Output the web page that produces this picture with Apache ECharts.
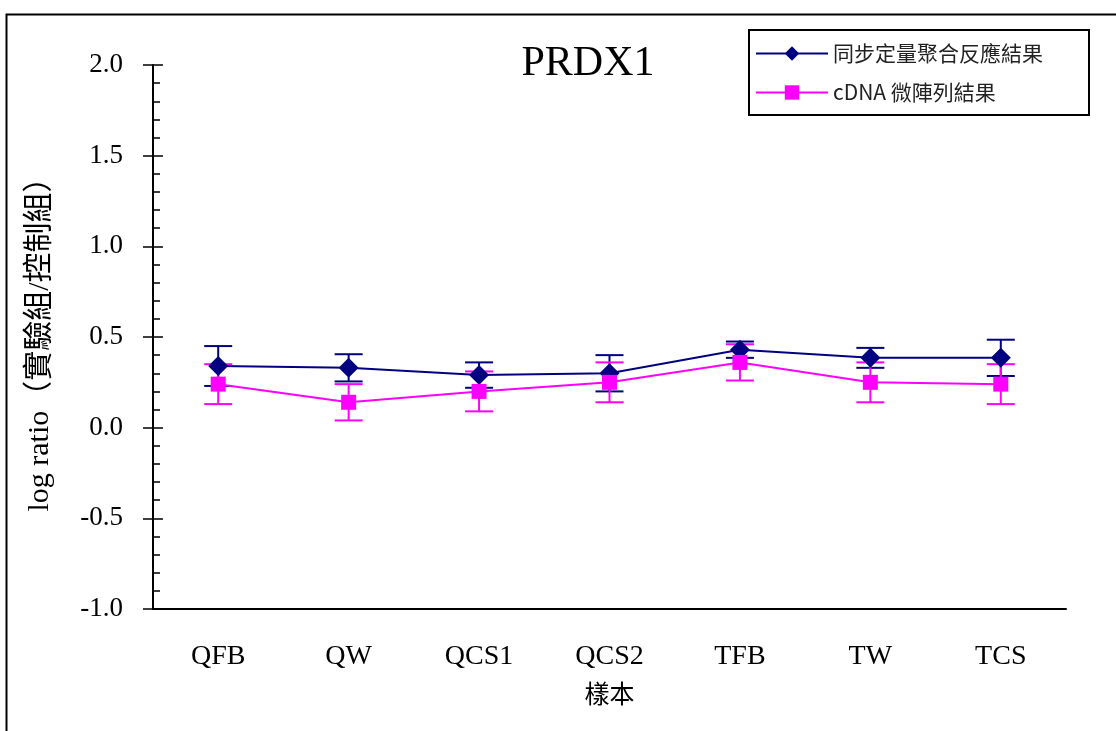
<!DOCTYPE html>
<html><head><meta charset="utf-8">
<script src="https://cdn.jsdelivr.net/npm/echarts@6/dist/echarts.min.js"></script>
<style>html,body{margin:0;padding:0;background:#fff}#c{width:1116px;height:731px}</style>
</head><body><div id="c"></div>
<script>
const categories = ['QFB','QW','QCS1','QCS2','TFB','TW','TCS'];
const qpcrValues = [0.34, 0.33, 0.29, 0.30, 0.43, 0.385, 0.385];
const qpcrErrors = [0.11, 0.075, 0.07, 0.10, 0.045, 0.055, 0.10];
const cdnaValues = [0.24, 0.14, 0.20, 0.25, 0.36, 0.25, 0.24];
const cdnaErrors = [0.11, 0.10, 0.11, 0.11, 0.10, 0.11, 0.11];
const seriesNames = ['同步定量聚合反應結果', 'cDNA 微陣列結果'];
const yTicks = {min: -1.0, max: 2.0, interval: 0.5};

const serif = '"Liberation Serif","Noto Sans CJK TC",serif';
const cjk = '"Noto Sans CJK TC","Liberation Serif",serif';

function errSeries(vals, errs, color) {
  return {
    type: 'custom', silent: true, z: 3,
    data: vals.map((v, i) => [i, v - errs[i], v + errs[i]]),
    renderItem: function (params, api) {
      const lo = api.coord([api.value(0), api.value(1)]);
      const hi = api.coord([api.value(0), api.value(2)]);
      const w = 14;
      const st = {stroke: color, lineWidth: 2};
      return {type: 'group', children: [
        {type: 'line', shape: {x1: lo[0], y1: lo[1], x2: hi[0], y2: hi[1]}, style: st},
        {type: 'line', shape: {x1: lo[0]-w, y1: lo[1], x2: lo[0]+w, y2: lo[1]}, style: st},
        {type: 'line', shape: {x1: hi[0]-w, y1: hi[1], x2: hi[0]+w, y2: hi[1]}, style: st}
      ]};
    }
  };
}

const chart = echarts.init(document.getElementById('c'));
chart.setOption({
  backgroundColor: '#fff',
  animation: false,
  title: {text: 'PRDX1', left: 583, top: 38, textAlign: 'center',
    textStyle: {fontFamily: serif, fontSize: 42, fontWeight: 'normal', color: '#000'}},
  legend: {
    orient: 'vertical', left: 749, top: 30,
    padding: [13, 46, 12, 6], itemGap: 18, itemWidth: 72, itemHeight: 18,
    borderColor: '#000', borderWidth: 2, backgroundColor: '#fff',
    textStyle: {fontFamily: cjk, fontSize: 21, color: '#222'},
    data: seriesNames
  },
  grid: {left: 153, right: 50, top: 65, bottom: 122},
  xAxis: {
    type: 'category', data: categories, boundaryGap: true,
    name: '樣本', nameLocation: 'middle', nameGap: 72,
    nameTextStyle: {fontFamily: cjk, fontSize: 25, color: '#000'},
    axisLine: {onZero: false, lineStyle: {color: '#000', width: 2}},
    axisTick: {inside: true, length: 12, lineStyle: {color: '#000', width: 1.5}},
    axisLabel: {fontFamily: serif, fontSize: 28, color: '#000', margin: 34},
    splitLine: {show: false}
  },
  yAxis: [{
    type: 'value', min: yTicks.min, max: yTicks.max, interval: yTicks.interval,
    name: 'log ratio（實驗組/控制組）', nameLocation: 'middle', nameGap: 98, nameRotate: 90,
    nameTextStyle: {fontFamily: serif, fontSize: 30, color: '#000'},
    axisLine: {show: true, lineStyle: {color: '#000', width: 2}},
    axisTick: {show: true, inside: true, length: 10, lineStyle: {color: '#000', width: 1.5}},
    minorTick: {show: true, splitNumber: 5, length: 7, lineStyle: {color: '#000', width: 1.5}},
    axisLabel: {fontFamily: serif, fontSize: 27, color: '#000', margin: 30,
      formatter: v => v.toFixed(1)},
    splitLine: {show: false}
  }, {
    type: 'value', position: 'left', min: yTicks.min, max: yTicks.max, interval: yTicks.interval,
    axisLine: {show: false},
    axisTick: {show: true, inside: false, length: 10, lineStyle: {color: '#000', width: 1.5}},
    axisLabel: {show: false}, splitLine: {show: false}
  }],
  series: [
    {name: seriesNames[0], type: 'line', data: qpcrValues, z: 4,
      symbol: 'diamond', symbolSize: 20, color: '#000080',
      lineStyle: {color: '#000080', width: 2}, itemStyle: {color: '#000080'}},
    {name: seriesNames[1], type: 'line', data: cdnaValues, z: 4,
      symbol: 'rect', symbolSize: 15, color: '#ff00ff',
      lineStyle: {color: '#ff00ff', width: 2}, itemStyle: {color: '#ff00ff'}},
    errSeries(qpcrValues, qpcrErrors, '#000080'),
    errSeries(cdnaValues, cdnaErrors, '#ff00ff')
  ],
  graphic: [{type: 'rect', left: 4, top: 12, shape: {width: 1200, height: 800},
    style: {fill: 'none', stroke: '#000', lineWidth: 2}, silent: true}]
});
</script></body></html>
